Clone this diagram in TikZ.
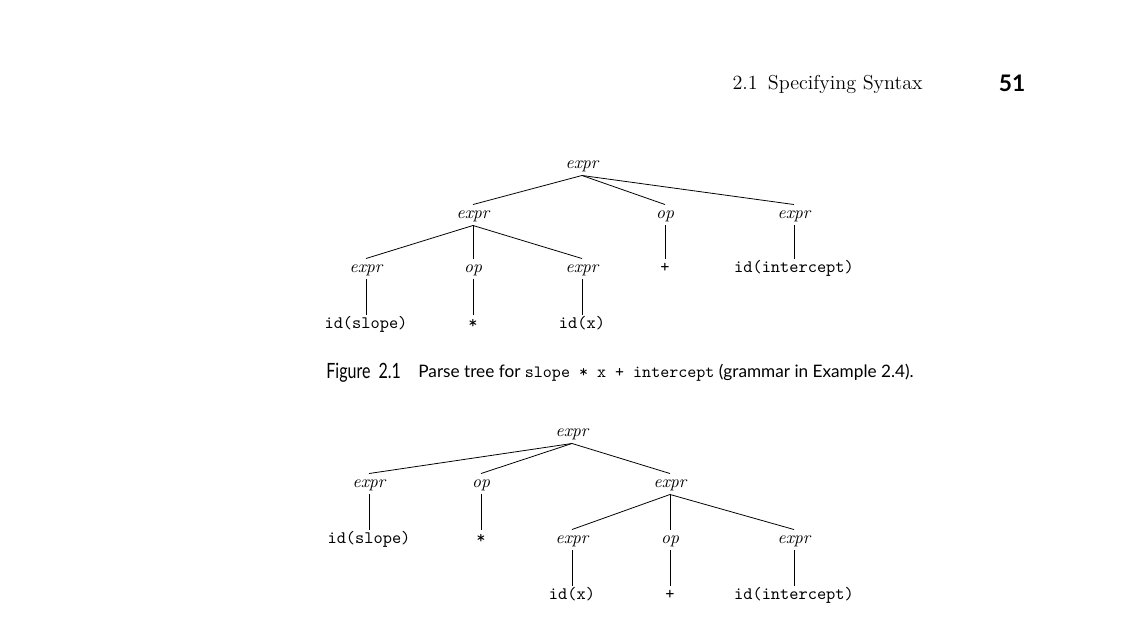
\documentclass[tikz,border=0pt]{standalone}
\usepackage{fontspec}
\usepackage{tikz}
\newfontfamily\capfont{Lato}
\tikzset{
  nt/.style={inner sep=0pt, minimum height=11.5pt, text height=1.5ex, text depth=.45ex, font=\itshape},
  tm/.style={inner sep=0pt, minimum height=11.5pt, text height=1.5ex, text depth=.45ex, font=\ttfamily}
}

\begin{document}
\begin{tikzpicture}[x=0.57pt, y=-0.57pt, line width=0.45pt]
\useasboundingbox (0, 0) rectangle (1128, 618);

% Header
\node[anchor=east, inner sep=0pt] at (923, 84) (hd) {\fontsize{11.5}{13}\selectfont 2.1\enspace Specifying Syntax};
\node at (1012, 83) (pg) {\capfont\bfseries\fontsize{13}{15}\selectfont 51};

% Nodes (first tree)
\node[nt] at (582, 165) (a) {expr};
\node[nt] at (473, 215) (a1) {expr};
\node[nt] at (665, 215) (a2) {op};
\node[nt] at (794, 215) (a3) {expr};
\node[nt] at (366, 269) (a11) {expr};
\node[nt] at (473, 269) (a12) {op};
\node[nt] at (582, 269) (a13) {expr};
\node[tm] at (665, 269) (a21) {+};
\node[tm] at (794, 269) (a31) {id(intercept)};
\node[tm] at (366, 325) (a111) {id(slope)};
\node[tm] at (473, 325) (a121) {*};
\node[tm] at (582, 325) (a131) {id(x)};

% Lines (first tree)
\draw (a.south) -- (a1.north);
\draw (a.south) -- (a2.north);
\draw (a.south) -- (a3.north);
\draw (a1.south) -- (a11.north);
\draw (a1.south) -- (a12.north);
\draw (a1.south) -- (a13.north);
\draw (a2) -- (a21);
\draw (a3) -- (a31);
\draw (a11) -- (a111);
\draw (a12) -- (a121);
\draw (a13) -- (a131);

% Caption
\node[anchor=west, inner sep=0pt] at (326, 373) (fig) {\capfont\fontsize{12}{14}\selectfont\scalebox{0.76}[1]{Figure\ \ 2.1}};
\node[anchor=west, inner sep=0pt] at (418, 373) (cap) {\capfont\fontsize{9.8}{12}\selectfont Parse tree for \texttt{slope * x + intercept} (grammar in Example 2.4).};

% Nodes (second tree)
\node[nt] at (572, 433) (b) {expr};
\node[nt] at (369, 484) (b1) {expr};
\node[nt] at (481, 484) (b2) {op};
\node[nt] at (670, 484) (b3) {expr};
\node[tm] at (369, 540) (b11) {id(slope)};
\node[tm] at (481, 540) (b21) {*};
\node[nt] at (572, 540) (b31) {expr};
\node[nt] at (670, 540) (b32) {op};
\node[nt] at (794, 540) (b33) {expr};
\node[tm] at (572, 596) (b311) {id(x)};
\node[tm] at (670, 596) (b321) {+};
\node[tm] at (794, 596) (b331) {id(intercept)};

% Lines (second tree)
\draw (b.south) -- (b1.north);
\draw (b.south) -- (b2.north);
\draw (b.south) -- (b3.north);
\draw (b1) -- (b11);
\draw (b2) -- (b21);
\draw (b3.south) -- (b31.north);
\draw (b3.south) -- (b32.north);
\draw (b3.south) -- (b33.north);
\draw (b31) -- (b311);
\draw (b32) -- (b321);
\draw (b33) -- (b331);

\end{tikzpicture}
\end{document}
